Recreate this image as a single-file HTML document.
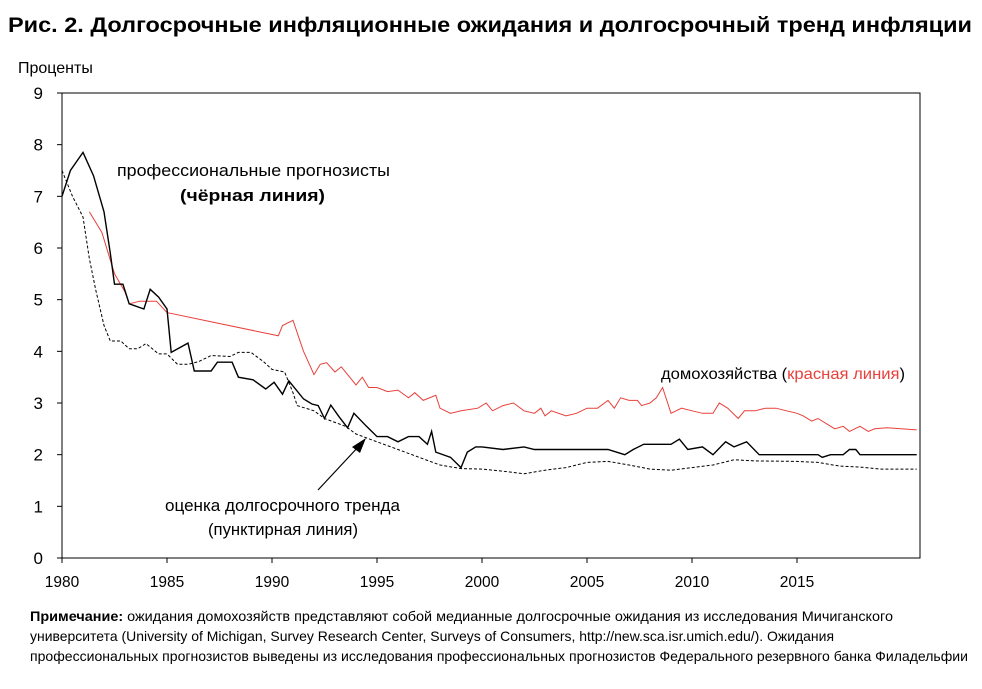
<!DOCTYPE html>
<html><head><meta charset="utf-8"><style>
body{margin:0;background:#fff;font-family:"Liberation Sans",sans-serif;}
svg text{font-family:"Liberation Sans",sans-serif;}
</style></head><body>
<svg width="982" height="684">
<text x="8" y="32" font-size="21" font-weight="bold" textLength="964" lengthAdjust="spacingAndGlyphs">Рис. 2. Долгосрочные инфляционные ожидания и долгосрочный тренд инфляции</text>
<text x="18" y="73" font-size="16">Проценты</text>
<g id="axes"></g>
<g id="series"></g>
<text x="117" y="176" font-size="17" textLength="273" lengthAdjust="spacingAndGlyphs">профессиональные прогнозисты</text>
<text x="180" y="201" font-size="17" font-weight="bold" textLength="145" lengthAdjust="spacingAndGlyphs">(чёрная линия)</text>
<text x="661" y="379" font-size="16" textLength="244" lengthAdjust="spacingAndGlyphs">домохозяйства (<tspan fill="#e8403a">красная линия</tspan>)</text>
<text x="165" y="511" font-size="16.5" textLength="235" lengthAdjust="spacingAndGlyphs">оценка долгосрочного тренда</text>
<text x="208" y="535" font-size="16.5" textLength="150" lengthAdjust="spacingAndGlyphs">(пунктирная линия)</text>
<line x1="318" y1="490" x2="360" y2="445" stroke="#000" stroke-width="1.2"/>
<polygon points="366,438 352,447 360,453" fill="#000"/>
<text x="30" y="621" font-size="14" textLength="863" lengthAdjust="spacingAndGlyphs"><tspan font-weight="bold">Примечание:</tspan> ожидания домохозяйств представляют собой медианные долгосрочные ожидания из исследования Мичиганского</text>
<text x="30" y="641" font-size="14" textLength="804" lengthAdjust="spacingAndGlyphs">университета (University of Michigan, Survey Research Center, Surveys of Consumers, http://new.sca.isr.umich.edu/). Ожидания</text>
<text x="30" y="661" font-size="14" textLength="938" lengthAdjust="spacingAndGlyphs">профессиональных прогнозистов выведены из исследования профессиональных прогнозистов Федерального резервного банка Филадельфии</text>
</svg>
<script>
const xTicks=[1980,1985,1990,1995,2000,2005,2010,2015];
const yTicks=[0,1,2,3,4,5,6,7,8,9];
const proYears=[1980,1980.4,1981,1981.5,1982,1982.3,1982.5,1982.9,1983.2,1983.9,1984.2,1984.6,1985,1985.2,1986,1986.3,1987.1,1987.4,1988.1,1988.4,1989.1,1989.7,1990.1,1990.5,1990.8,1991.5,1991.9,1992.2,1992.5,1992.8,1993.2,1993.6,1993.9,1994.5,1995,1995.5,1996,1996.5,1997,1997.4,1997.6,1997.8,1998.5,1999,1999.3,1999.7,2000,2001,2002,2002.5,2003,2003.5,2004,2005,2006,2006.8,2007.2,2007.7,2009,2009.4,2009.8,2010.5,2011,2011.6,2012,2012.6,2013.2,2016,2016.2,2016.6,2017.2,2017.5,2017.8,2018,2020.7];
const proVals=[7.0,7.5,7.85,7.4,6.7,5.9,5.3,5.3,4.92,4.82,5.2,5.05,4.82,3.98,4.16,3.62,3.62,3.79,3.79,3.5,3.45,3.27,3.4,3.17,3.43,3.08,2.98,2.95,2.7,2.96,2.73,2.52,2.8,2.55,2.35,2.35,2.25,2.35,2.35,2.2,2.45,2.05,1.95,1.75,2.05,2.15,2.15,2.1,2.15,2.1,2.1,2.1,2.1,2.1,2.1,2.0,2.1,2.2,2.2,2.3,2.1,2.15,2.0,2.25,2.15,2.25,2.0,2.0,1.95,2.0,2.0,2.1,2.1,2.0,2.0];
const hhYears=[1981.3,1981.9,1982.5,1983,1983.2,1983.7,1984.5,1985,1990.3,1990.5,1991,1991.5,1992,1992.3,1992.6,1993,1993.3,1993.6,1994,1994.3,1994.6,1995,1995.5,1996,1996.5,1996.8,1997.2,1997.8,1998,1998.5,1999,1999.8,2000.2,2000.5,2001,2001.5,2002,2002.5,2002.8,2003,2003.3,2004,2004.5,2005,2005.5,2006,2006.3,2006.6,2007,2007.4,2007.6,2008,2008.3,2008.6,2009,2009.5,2010,2010.5,2011,2011.3,2011.7,2012.2,2012.5,2013,2013.5,2014,2014.5,2015,2015.3,2015.7,2016,2016.4,2016.8,2017.2,2017.5,2018,2018.4,2018.7,2019.3,2020.7];
const hhVals=[6.7,6.3,5.5,5.15,4.92,4.97,4.97,4.75,4.3,4.5,4.6,4.0,3.55,3.75,3.78,3.6,3.7,3.55,3.35,3.5,3.3,3.3,3.22,3.25,3.1,3.2,3.05,3.15,2.9,2.8,2.85,2.9,3.0,2.85,2.95,3.0,2.85,2.8,2.9,2.75,2.85,2.75,2.8,2.9,2.9,3.05,2.9,3.1,3.05,3.05,2.95,3.0,3.1,3.3,2.8,2.9,2.85,2.8,2.8,3.0,2.9,2.7,2.85,2.85,2.9,2.9,2.85,2.8,2.75,2.65,2.7,2.6,2.5,2.55,2.45,2.55,2.45,2.5,2.52,2.48];
const trYears=[1980,1980.5,1981,1981.3,1981.6,1982,1982.3,1982.8,1983.2,1983.6,1984,1984.6,1985,1985.5,1986,1986.5,1987.1,1988,1988.4,1989,1989.6,1990,1990.6,1991,1991.2,1992,1992.5,1993.5,1994,1995,1996,1997,1998,1999,2000,2001,2002,2003,2004,2005,2006,2007,2008,2009,2010,2011,2012,2013,2015,2016,2017,2018,2019,2020.7];
const trVals=[7.5,7.0,6.6,5.8,5.2,4.5,4.2,4.2,4.05,4.05,4.15,3.95,3.95,3.75,3.75,3.8,3.92,3.9,3.98,3.98,3.8,3.65,3.6,3.2,2.95,2.85,2.7,2.55,2.4,2.25,2.1,1.95,1.8,1.73,1.72,1.68,1.63,1.7,1.75,1.85,1.87,1.8,1.72,1.7,1.75,1.8,1.9,1.88,1.87,1.85,1.78,1.76,1.72,1.72];
const NS='http://www.w3.org/2000/svg';
const X0=62,X1=920,Y0=558,Y1=93;
function xs(v){return X0+(v-1980)*21;}
function ys(v){return Y0-(v/9)*(Y0-Y1);}
const ax=document.getElementById('axes');
function mk(tag,attrs,parent){const e=document.createElementNS(NS,tag);for(const k in attrs)e.setAttribute(k,attrs[k]);parent.appendChild(e);return e;}
const frame=mk('rect',{x:X0,y:Y1,width:X1-X0,height:Y0-Y1,fill:'none',stroke:'#000','stroke-width':1},ax);


yTicks.forEach(t=>{const y=ys(t);
const l=mk('line',{x1:X0-5,y1:y,x2:X0,y2:y,stroke:'#000'},ax);


const tx=mk('text',{x:X0-19,y:y+6,'font-size':17,'text-anchor':'end'},ax);tx.textContent=t;

});
xTicks.forEach(t=>{const x=xs(t);
const l=mk('line',{x1:x,y1:Y0,x2:x,y2:Y0+5,stroke:'#000'},ax);


const tx=mk('text',{x:x,y:Y0+29,'font-size':15.5,'text-anchor':'middle'},ax);tx.textContent=t;

});
const sg=document.getElementById('series');
function line(xsArr,vs,col,w,dash,name){const p=xsArr.map((x,i)=>xs(x).toFixed(1)+','+ys(vs[i]).toFixed(1)).join(' ');
const e=mk('polyline',{points:p,fill:'none',stroke:col,'stroke-width':w},sg);if(dash)e.setAttribute('stroke-dasharray',dash);

}
line(trYears,trVals,'#000',1,'3,2','trend-line');
line(hhYears,hhVals,'#e8403a',1,null,'household-line');
line(proYears,proVals,'#000',1.4,null,'professional-line');
</script>
</body></html>
